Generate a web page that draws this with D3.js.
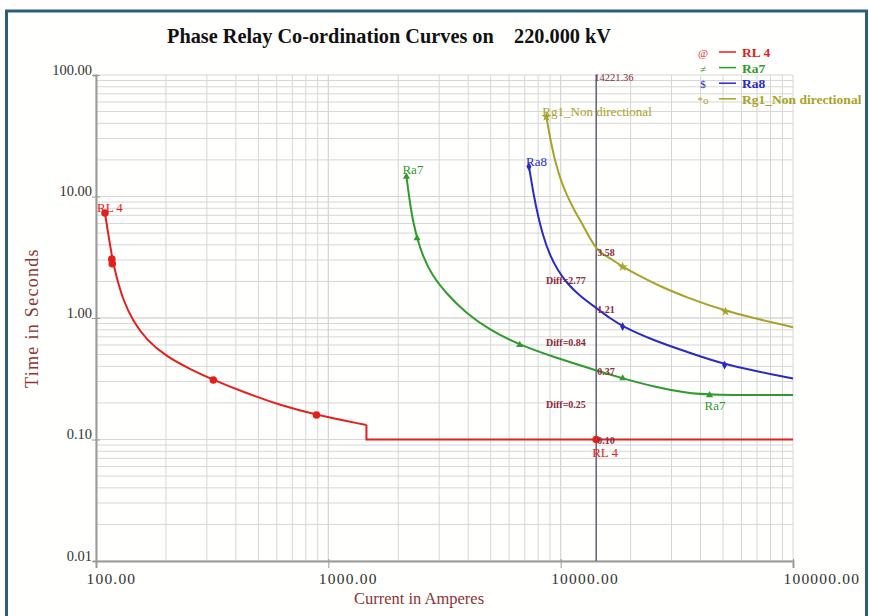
<!DOCTYPE html>
<html><head><meta charset="utf-8">
<script src="https://cdn.jsdelivr.net/npm/d3@7"></script>
<style>body{margin:0;background:#fff}svg{display:block}text{font-family:"Liberation Serif","DejaVu Serif",serif}</style>
</head><body><svg id="c" width="869" height="616"></svg>
<script>
// ---- data ----
const xTicks = [100, 1000, 10000, 100000];
const xTickLabels = ["100.00", "1000.00", "10000.00", "100000.00"];
const yTicks = [100, 10, 1, 0.1, 0.01];
const yTickLabels = ["100.00", "10.00", "1.00", "0.10", "0.01"];
const rl4Current = [109.3, 117.2, 121.9, 130.6, 144.3, 165, 201, 253.7, 320, 445, 618, 889, 1459];
const rl4Time    = [7.31, 3.12, 2.26, 1.41, 0.945, 0.659, 0.481, 0.380, 0.309, 0.240, 0.192, 0.159, 0.1315];
const rl4StepCurrent = [1459, 1459, 100000];
const rl4StepTime    = [0.1315, 0.1, 0.1];
const ra7Current = [2169, 2208, 2253, 2309, 2410, 2550, 2788, 3203, 3904, 4950, 6664, 9239, 14221, 18484, 24870, 34830, 43730, 100000];
const ra7Time    = [14.55, 11.3, 8.51, 6.41, 4.53, 3.24, 2.26, 1.61, 1.10, 0.797, 0.600, 0.480, 0.37, 0.319, 0.273, 0.241, 0.232, 0.232];
const ra8Current = [7306, 7466, 7654, 7924, 8369, 8968, 9708, 10612, 12070, 14221, 16246, 18484, 24870, 34830, 50750, 100000];
const ra8Time    = [17.6, 13.7, 10.3, 7.45, 4.82, 3.30, 2.48, 1.94, 1.52, 1.21, 1.0, 0.851, 0.659, 0.528, 0.410, 0.318];
const rg1Current = [8679, 8879, 9148, 9517, 10000, 10612, 11487, 12686, 14221, 16246, 18484, 21868, 26660, 34480, 51250, 100000];
const rg1Time    = [45.4, 35.3, 26.0, 18.9, 13.7, 10.3, 7.60, 5.50, 3.58, 3.12, 2.64, 2.22, 1.83, 1.49, 1.13, 0.84];
const rl4MarkI = [109.3, 117, 117.5, 320, 889, 14221];
const rl4MarkT = [7.31, 3.05, 2.8, 0.309, 0.159, 0.1];
const ra7MarkI = [2169, 2410, 6664, 18484, 43730];
const ra7MarkT = [14.55, 4.53, 0.600, 0.319, 0.232];
const ra8MarkI = [7306, 18484, 50750];
const ra8MarkT = [17.6, 0.851, 0.410];
const rg1MarkI = [8679, 18484, 51250];
const rg1MarkT = [45.4, 2.64, 1.13];
const faultCurrent = 14221.36;
const opLabels = ["3.58", "1.21", "0.37", "0.10"];
const opTimes = [3.58, 1.21, 0.37, 0.10];
const diffLabels = ["Diff=2.77", "Diff=0.84", "Diff=0.25"];
const diffTimes = [2.05, 0.64, 0.195];
const seriesNames = ["RL 4", "Ra7", "Ra8", "Rg1_Non directional"];
const legendSymbols = ["@", "\u2260", "$", "*o"];
const colors = ["#e3201c", "#2f9a2f", "#2a2ac4", "#a8a229"];

// ---- layout ----
const svg = d3.select("#c");
const L = 96, R = 793, T = 75, B = 561;
const x = d3.scaleLog().domain([100, 100000]).range([L, R]);
const y = d3.scaleLog().domain([0.01, 100]).range([B, T]);

// frame
svg.append("rect").attr("x", 6.5).attr("y", 11).attr("width", 860).attr("height", 615)
  .attr("fill", "#fffffd").attr("stroke", "#2e5d78").attr("stroke-width", 3);

// grid
const minorX = [], minorY = [];
for (let d = 100; d < 100000; d *= 10) for (let k = 1; k <= 10; k++) minorX.push(d * k);
for (let d = 0.01; d < 99; d *= 10) for (let k = 1; k <= 10; k++) minorY.push(d * k);
const g = svg.append("g");
g.selectAll(".gx").data(minorX).join("line").attr("x1", d => x(d)).attr("x2", d => x(d))
  .attr("y1", T).attr("y2", B).attr("stroke", "#d6d6d6").attr("stroke-width", 1);
g.selectAll(".gy").data(minorY).join("line").attr("y1", d => y(d)).attr("y2", d => y(d))
  .attr("x1", L).attr("x2", R).attr("stroke", "#d6d6d6").attr("stroke-width", 1);

// axes
const xAxis = d3.axisBottom(x).tickValues(xTicks).tickFormat((d, i) => xTickLabels[i]).tickSize(7).tickPadding(5);
const yAxis = d3.axisLeft(y).tickValues(yTicks).tickFormat((d, i) => yTickLabels[i]).tickSize(3).tickPadding(1);
const ax = svg.append("g").attr("transform", `translate(0,${B})`).call(xAxis).attr("font-family", null);
ax.select(".domain").attr("stroke", "#9a9a9a").attr("stroke-width", 2);
ax.selectAll(".tick line").attr("stroke", "#9a9a9a").attr("y1", -2);
ax.selectAll(".tick text").style("font-family", "'Liberation Serif', serif").style("font-size", "15.5px")
  .style("letter-spacing", "1.2px").attr("fill", "#333").attr("text-anchor", "start").attr("x", -10);
const ay = svg.append("g").attr("transform", `translate(${L},0)`).call(yAxis).attr("font-family", null);
ay.select(".domain").attr("stroke", "#9a9a9a").attr("stroke-width", 2);
ay.selectAll(".tick line").attr("stroke", "#9a9a9a").attr("x2", -4).attr("x1", 4);
ay.selectAll(".tick text").style("font-family", "'Liberation Serif', serif").style("font-size", "14.5px").attr("fill", "#333").attr("dy", "-0.05em");

// axis titles
svg.append("text").attr("x", 419).attr("y", 604).attr("text-anchor", "middle").attr("font-size", 16.5)
  .attr("fill", "#8b3535").text("Current in Amperes");
svg.append("text").attr("transform", "translate(38,318) rotate(-90)").attr("text-anchor", "middle")
  .attr("font-size", 18).style("letter-spacing", "1.3px").attr("fill", "#8b3535").text("Time in Seconds");

// title
svg.append("text").attr("x", 389).attr("y", 43).attr("text-anchor", "middle").attr("font-size", 20.3)
  .attr("font-weight", "bold").attr("fill", "#111").style("white-space", "pre")
  .text("Phase Relay Co-ordination Curves on    220.000 kV");

// fault line
svg.append("line").attr("x1", x(faultCurrent)).attr("x2", x(faultCurrent)).attr("y1", T).attr("y2", B)
  .attr("stroke", "#5f6075").attr("stroke-width", 1.5);
svg.append("text").attr("x", x(faultCurrent) - 2).attr("y", 81).attr("font-family", "Liberation Sans")
  .attr("font-size", 10.5).attr("fill", "#8a2a3a").text(faultCurrent.toFixed(2));

// curves
const basis = d3.line().x(d => x(d[0])).y(d => y(d[1])).curve(d3.curveBasis);
const linear = d3.line().x(d => x(d[0])).y(d => y(d[1]));
const zip = (a, b) => a.map((v, j) => [v, b[j]]);
const curves = [zip(rl4Current, rl4Time), zip(ra7Current, ra7Time), zip(ra8Current, ra8Time), zip(rg1Current, rg1Time)];
curves.forEach((pts, i) => {
  svg.append("path").attr("d", basis(pts)).attr("fill", "none").attr("stroke", colors[i]).attr("stroke-width", 2);
});
svg.append("path").attr("d", linear(zip(rl4StepCurrent, rl4StepTime))).attr("fill", "none").attr("stroke", colors[0]).attr("stroke-width", 2);

// markers
const marks = [[rl4MarkI, rl4MarkT, d3.symbolCircle, 45], [ra7MarkI, ra7MarkT, d3.symbolTriangle, 22],
               [ra8MarkI, ra8MarkT, d3.symbolDiamond, 22], [rg1MarkI, rg1MarkT, d3.symbolStar, 30]];
marks.forEach((m, i) => {
  svg.selectAll(null).data(m[0]).join("path")
    .attr("transform", (d, j) => `translate(${x(d)},${y(m[1][j])})`)
    .attr("d", d3.symbol().type(m[2]).size(m[3])).attr("fill", colors[i]);
});

// curve labels
const lab = (t, xx, yy, c) => svg.append("text").attr("x", xx).attr("y", yy).attr("font-size", 13).attr("fill", c).text(t);
lab("RL 4", x(rl4Current[0]) - 8, y(rl4Time[0]) - 1, colors[0]);
lab("Ra7", x(ra7Current[0]) - 4, y(ra7Time[0]) - 3, colors[1]);
lab("Ra8", x(ra8Current[0]) - 3, y(ra8Time[0]) - 1, colors[2]);
lab("Rg1_Non directional", x(rg1Current[0]) - 4, y(rg1Time[0]) - 1, colors[3]);
lab("Ra7", x(ra7MarkI[4]) - 5, y(ra7MarkT[4]) + 15, colors[1]);
lab("RL 4", x(faultCurrent) - 4, y(0.1) + 17, colors[0]);

// operating-time labels on fault line
opLabels.forEach((t, i) => {
  svg.append("text").attr("x", x(faultCurrent) + 1).attr("y", y(opTimes[i]) + (i === 3 ? 4 : 5))
    .attr("font-family", "Liberation Sans").attr("font-weight", "bold").attr("font-size", 10)
    .attr("fill", "#8a2a3a").text(t);
});
diffLabels.forEach((t, i) => {
  svg.append("text").attr("x", 546).attr("y", y(diffTimes[i]) + 4)
    .attr("font-family", "Liberation Sans").attr("font-weight", "bold").attr("font-size", 10)
    .attr("fill", "#8a2a3a").text(t);
});

// legend
seriesNames.forEach((n, i) => {
  const yy = 57 + i * 15.6;
  svg.append("text").attr("x", 703).attr("y", yy).attr("text-anchor", "middle").attr("font-size", 11).attr("fill", colors[i]).text(legendSymbols[i]);
  svg.append("line").attr("x1", 719).attr("x2", 736).attr("y1", yy - 5).attr("y2", yy - 5).attr("stroke", colors[i]).attr("stroke-width", 1.5);
  svg.append("text").attr("x", 742).attr("y", yy).attr("font-size", 13.5).attr("font-weight", "bold").attr("fill", colors[i]).text(n);
});
</script></body></html>
